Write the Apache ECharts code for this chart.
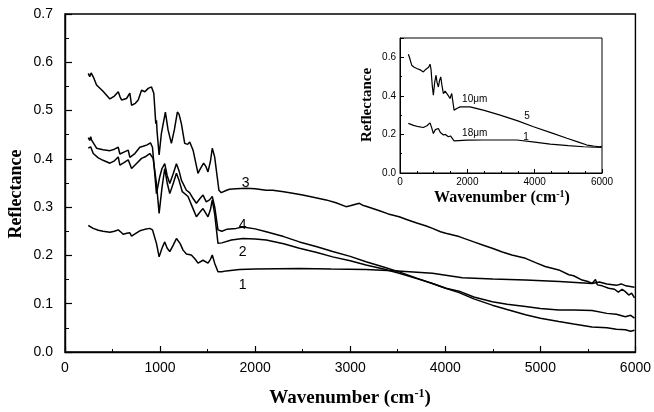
<!DOCTYPE html>
<html>
<head>
<meta charset="utf-8">
<script src="https://cdn.jsdelivr.net/npm/echarts@6/dist/echarts.min.js"></script>
<style>
html,body{margin:0;padding:0;background:#fff;}
#chart{width:654px;height:412px;}
</style>
</head>
<body>
<div id="chart"></div>
<script>
// ---- Data (wavenumber cm^-1, reflectance) ----
const curve3 = [[245,0.577],[260,0.570],[275,0.578],[297,0.570],[332,0.553],[400,0.540],[472,0.524],[520,0.530],[560,0.539],[580,0.528],[595,0.522],[647,0.525],[682,0.536],[700,0.511],[740,0.515],[770,0.522],[805,0.542],[840,0.539],[875,0.546],[910,0.549],[934,0.536],[955,0.473],[962,0.480],[969,0.455],[990,0.408],[1014,0.453],[1056,0.497],[1084,0.460],[1119,0.432],[1150,0.460],[1182,0.497],[1200,0.492],[1224,0.473],[1259,0.432],[1290,0.430],[1312,0.435],[1347,0.418],[1399,0.370],[1417,0.377],[1458,0.391],[1480,0.385],[1504,0.373],[1530,0.395],[1549,0.422],[1574,0.404],[1619,0.335],[1644,0.330],[1700,0.335],[1731,0.337],[1800,0.338],[1906,0.339],[2000,0.338],[2116,0.335],[2186,0.335],[2300,0.332],[2395,0.329],[2500,0.325],[2600,0.321],[2746,0.315],[2850,0.309],[2956,0.301],[3000,0.303],[3095,0.308],[3130,0.304],[3166,0.302],[3300,0.293],[3400,0.286],[3515,0.280],[3600,0.274],[3700,0.267],[3800,0.261],[3865,0.256],[3950,0.249],[4005,0.246],[4145,0.239],[4300,0.228],[4400,0.221],[4494,0.215],[4600,0.207],[4700,0.201],[4844,0.194],[4950,0.185],[5050,0.177],[5194,0.170],[5300,0.160],[5350,0.158],[5439,0.149],[5500,0.146],[5544,0.142],[5580,0.150],[5600,0.139],[5650,0.137],[5719,0.132],[5780,0.130],[5820,0.124],[5860,0.130],[5894,0.125],[5930,0.118],[5960,0.122],[5990,0.112]];
const curve4 = [[245,0.444],[260,0.438],[270,0.446],[280,0.439],[332,0.422],[400,0.419],[472,0.417],[520,0.420],[560,0.424],[577,0.410],[620,0.414],[665,0.418],[682,0.403],[735,0.411],[787,0.424],[822,0.426],[864,0.429],[899,0.433],[920,0.424],[944,0.370],[962,0.328],[997,0.363],[1020,0.380],[1049,0.390],[1075,0.365],[1102,0.349],[1140,0.370],[1172,0.390],[1200,0.375],[1224,0.356],[1277,0.335],[1310,0.330],[1340,0.320],[1382,0.308],[1420,0.318],[1452,0.325],[1486,0.311],[1520,0.315],[1549,0.322],[1575,0.300],[1609,0.253],[1650,0.250],[1700,0.254],[1800,0.256],[1871,0.259],[2000,0.255],[2116,0.249],[2300,0.239],[2466,0.228],[2650,0.218],[2815,0.208],[3000,0.198],[3166,0.187],[3350,0.176],[3515,0.166],[3700,0.153],[3865,0.142],[4005,0.132],[4145,0.123],[4300,0.110],[4494,0.097],[4650,0.088],[4844,0.077],[5000,0.070],[5194,0.063],[5350,0.058],[5544,0.052],[5700,0.050],[5800,0.047],[5894,0.046],[5950,0.043],[5990,0.045]];
const curve2 = [[245,0.422],[260,0.418],[270,0.425],[297,0.411],[350,0.402],[400,0.397],[472,0.391],[520,0.396],[560,0.404],[577,0.387],[620,0.392],[665,0.398],[700,0.380],[750,0.390],[805,0.401],[850,0.405],[892,0.411],[927,0.401],[962,0.349],[990,0.287],[1020,0.340],[1049,0.380],[1075,0.350],[1102,0.328],[1140,0.350],[1172,0.370],[1200,0.355],[1234,0.332],[1294,0.322],[1340,0.300],[1382,0.280],[1420,0.290],[1452,0.297],[1504,0.280],[1530,0.295],[1549,0.315],[1575,0.285],[1609,0.225],[1650,0.226],[1750,0.232],[1871,0.235],[2000,0.234],[2116,0.232],[2300,0.224],[2466,0.215],[2650,0.206],[2815,0.197],[3000,0.189],[3166,0.180],[3350,0.172],[3515,0.163],[3700,0.152],[3865,0.142],[4005,0.132],[4145,0.126],[4300,0.114],[4494,0.104],[4650,0.099],[4844,0.094],[5000,0.090],[5194,0.087],[5350,0.087],[5544,0.086],[5700,0.080],[5800,0.078],[5894,0.073],[5950,0.076],[5990,0.070]];
const curve1 = [[245,0.262],[260,0.258],[297,0.256],[350,0.252],[400,0.250],[472,0.248],[520,0.250],[560,0.253],[590,0.248],[612,0.244],[650,0.246],[682,0.247],[700,0.240],[740,0.245],[787,0.251],[840,0.254],[892,0.256],[920,0.253],[962,0.225],[990,0.197],[1020,0.215],[1049,0.228],[1075,0.215],[1102,0.208],[1140,0.222],[1172,0.235],[1210,0.225],[1242,0.211],[1277,0.203],[1329,0.201],[1370,0.192],[1399,0.184],[1452,0.190],[1504,0.184],[1530,0.192],[1549,0.201],[1574,0.184],[1609,0.166],[1650,0.166],[1696,0.168],[1836,0.171],[2000,0.172],[2466,0.173],[2800,0.172],[3166,0.171],[3500,0.168],[3865,0.163],[4005,0.159],[4180,0.154],[4500,0.151],[4844,0.149],[5200,0.146],[5544,0.142],[5620,0.145],[5700,0.141],[5800,0.138],[5850,0.141],[5900,0.137],[5990,0.134]];
// inset
const inset5 = [[247,0.616],[280,0.600],[348,0.559],[420,0.548],[497,0.542],[600,0.535],[693,0.524],[750,0.535],[794,0.542],[850,0.548],[892,0.564],[920,0.540],[960,0.450],[991,0.404],[1030,0.470],[1071,0.507],[1100,0.470],[1140,0.446],[1175,0.480],[1210,0.498],[1250,0.450],[1289,0.412],[1340,0.425],[1388,0.429],[1440,0.400],[1487,0.386],[1510,0.400],[1537,0.412],[1570,0.370],[1606,0.326],[1700,0.336],[1785,0.343],[2082,0.343],[2500,0.325],[2975,0.300],[3500,0.270],[3965,0.240],[4500,0.208],[4958,0.180],[5300,0.160],[5553,0.145],[5750,0.140],[5919,0.136],[5990,0.138]];
const inset1 = [[247,0.257],[400,0.247],[550,0.240],[693,0.236],[800,0.245],[892,0.260],[940,0.235],[991,0.205],[1050,0.225],[1100,0.215],[1140,0.231],[1200,0.210],[1289,0.197],[1350,0.200],[1437,0.188],[1500,0.192],[1537,0.197],[1606,0.167],[2000,0.170],[2478,0.171],[3000,0.171],[3471,0.171],[4000,0.160],[4462,0.150],[5000,0.142],[5453,0.136],[5800,0.134],[5990,0.133]];

// curve labels: [text, wavenumber, reflectance]
const mainLabels = {c3:['3',1899,0.350], c4:['4',1868,0.263], c2:['2',1868,0.207], c1:['1',1868,0.139]};
const insetLabels = {s5:[['10μm',1844,0.383],['5',3688,0.295]], s1:[['18μm',1844,0.207],['1',3659,0.186]]};

const SANS = 'Liberation Sans, Arial, sans-serif';
const SERIF = 'Liberation Serif, Times New Roman, serif';

function mk(lbls, fs, align){
  return {
    symbol:'circle', symbolSize:2, silent:true, animation:false,
    itemStyle:{color:'rgba(0,0,0,0)'},
    label:{show:true, position:'inside', color:'#000', fontFamily:SANS, fontSize:fs,
           align:align, verticalAlign:'middle', formatter:p=>p.name},
    data: lbls.map(l=>({name:l[0], coord:[l[1], l[2]], value:l[0]}))
  };
}

function line(name, data, xi, yi, lbls, fs, align){
  return {
    name, type:'line', data, xAxisIndex:xi, yAxisIndex:yi,
    showSymbol:false, symbol:'none', smooth:false, animation:false,
    lineStyle:{color:'#000', width: xi===0 ? 1.5 : 1.2},
    markPoint: mk(lbls, fs, align)
  };
}

const chart = echarts.init(document.getElementById('chart'), null, {renderer:'canvas'});

const axisBlack = {lineStyle:{color:'#000', width:1.4}};
chart.setOption({
  backgroundColor:'#fff',
  animation:false,
  grid:[
    {left:65, top:14, width:572, height:338, show:true, borderColor:'#000', borderWidth:1.4, backgroundColor:'transparent'},
    {left:400, top:38, width:202, height:135, show:true, borderColor:'#000', borderWidth:1, backgroundColor:'#fff'}
  ],
  xAxis:[
    {gridIndex:0, type:'value', min:0, max:6000, interval:1000,
     axisLine:axisBlack, splitLine:{show:false},
     axisTick:{inside:true, length:6, lineStyle:{color:'#000', width:1.2}},
     minorTick:{show:true, splitNumber:2, length:3, lineStyle:{color:'#000', width:1}},
     axisLabel:{color:'#000', fontFamily:SANS, fontSize:14, margin:9, formatter:v=>String(v)}},
    {gridIndex:1, type:'value', min:0, max:6000, interval:2000,
     axisLine:{lineStyle:{color:'#000', width:1}}, splitLine:{show:false},
     axisTick:{inside:true, length:4, lineStyle:{color:'#000'}},
     minorTick:{show:true, splitNumber:4, length:2, lineStyle:{color:'#000'}},
     axisLabel:{color:'#000', fontFamily:SANS, fontSize:10, margin:4, formatter:v=>String(v)}}
  ],
  yAxis:[
    {gridIndex:0, type:'value', min:0, max:0.7, interval:0.1,
     axisLine:axisBlack, splitLine:{show:false},
     axisTick:{inside:true, length:7, lineStyle:{color:'#000', width:1.2}},
     minorTick:{show:true, splitNumber:2, length:4, lineStyle:{color:'#000', width:1}},
     axisLabel:{color:'#000', fontFamily:SANS, fontSize:14, margin:12, formatter:v=>v.toFixed(1)}},
    {gridIndex:1, type:'value', min:0, max:0.7, interval:0.2,
     axisLine:{lineStyle:{color:'#000', width:1}}, splitLine:{show:false},
     axisTick:{inside:true, length:4, lineStyle:{color:'#000'}},
     minorTick:{show:true, splitNumber:2, length:2, lineStyle:{color:'#000'}},
     axisLabel:{color:'#000', fontFamily:SANS, fontSize:10, margin:4, showMaxLabel:false, formatter:v=>v.toFixed(1)}}
  ],
  series:[
    line('3', curve3, 0, 0, [mainLabels.c3], 14, 'center'),
    line('4', curve4, 0, 0, [mainLabels.c4], 14, 'center'),
    line('2', curve2, 0, 0, [mainLabels.c2], 14, 'center'),
    line('1', curve1, 0, 0, [mainLabels.c1], 14, 'center'),
    line('5', inset5, 1, 1, insetLabels.s5, 10, 'left'),
    line('1i', inset1, 1, 1, insetLabels.s1, 10, 'left')
  ],
  graphic:[
    {type:'text', x:16, y:194, rotation:Math.PI/2, silent:true,
     style:{text:'Reflectance', font:'bold 18px '+SERIF, fill:'#000', align:'center', verticalAlign:'middle'}},
    {type:'text', x:350, y:398, silent:true,
     style:{text:'Wavenumber (cm{sup|-1})', font:'bold 19px '+SERIF, fill:'#000', align:'center', verticalAlign:'middle',
            rich:{sup:{font:'bold 12px '+SERIF, fill:'#000', verticalAlign:'bottom', padding:[0,0,9,0]}}}},
    {type:'text', x:367, y:105, rotation:Math.PI/2, silent:true,
     style:{text:'Reflectance', font:'bold 15px '+SERIF, fill:'#000', align:'center', verticalAlign:'middle'}},
    {type:'text', x:502, y:198, silent:true,
     style:{text:'Wavenumber (cm{sup|-1})', font:'bold 16px '+SERIF, fill:'#000', align:'center', verticalAlign:'middle',
            rich:{sup:{font:'bold 10px '+SERIF, fill:'#000', verticalAlign:'bottom', padding:[0,0,8,0]}}}}
  ]
});
</script>
</body>
</html>
